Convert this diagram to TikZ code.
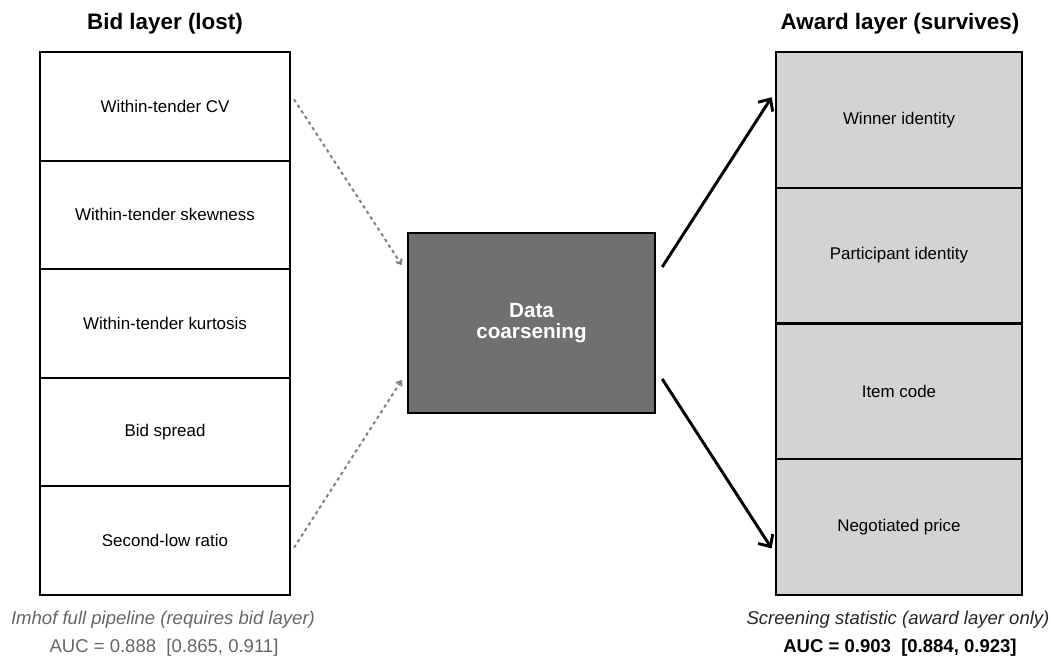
\documentclass[tikz,border=0pt]{standalone}
\usepackage{fontspec}
\setmainfont{Liberation Sans}
\usetikzlibrary{arrows.meta}

\definecolor{hubgray}{HTML}{707070}
\definecolor{cellgray}{HTML}{D3D3D3}
\definecolor{linkgray}{HTML}{808080}
\definecolor{notegray}{HTML}{666666}

\tikzset{
  bidcell/.style={draw=black, line width=1.5pt, fill=white, minimum width=187.5pt, minimum height=81.45pt, font=\fontsize{12.7}{15}\selectfont},
  awardcell/.style={draw=black, line width=1.5pt, fill=cellgray, minimum width=184.5pt, minimum height=101.8pt, font=\fontsize{12.7}{15}\selectfont},
  hubbox/.style={draw=black, line width=1.8pt, fill=hubgray, text=white, minimum width=185.25pt, minimum height=135pt, align=center, font=\fontsize{15.5}{16}\selectfont\bfseries},
  headline/.style={font=\fontsize{16.8}{19}\selectfont\bfseries},
  scorenote/.style={font=\fontsize{13.9}{16}\selectfont#1},
  scorenote/.default={}
}
\tikzset{
  lostlink/.style={draw=linkgray, line width=1.5pt, dash pattern=on 2.5pt off 2.5pt, -{Straight Barb[length=3pt,width=5pt]}},
  keptlink/.style={draw=black, line width=2.2pt, -{Straight Barb[length=7pt,width=13pt]}}
}

\begin{document}
\begin{tikzpicture}[x=0.75pt, y=-0.75pt]
  \useasboundingbox (0,0) rectangle (1051,659);

  %%%%% bid layer %%%%%
  \node[headline] (bidtitle) at (165,24) {Bid layer (lost)};
  \node[bidcell] (bid1) at (165,106.3) {Within-tender CV};
  \node[bidcell] (bid2) at (165,214.9) {Within-tender skewness};
  \node[bidcell] (bid3) at (165,323.5) {Within-tender kurtosis};
  \node[bidcell] (bid4) at (165,432.1) {Bid spread};
  \node[bidcell] (bid5) at (165,540.7) {Second-low ratio};

  %%%%% award layer %%%%%
  \node[headline] (awardtitle) at (900,24) {Award layer (survives)};
  \node[awardcell] (award1) at (899,119.9) {Winner identity};
  \node[awardcell] (award2) at (899,255.6) {Participant identity};
  \node[awardcell] (award3) at (899,391.4) {Item code};
  \node[awardcell] (award4) at (899,527.1) {Negotiated price};

  %%%%% coarsening step %%%%%
  \node[hubbox] (hub) at (531.5,323) {Data\\coarsening};

  \draw[lostlink] ([xshift=2.25pt,yshift=5.25pt]bid1.east) -- ([xshift=-3.75pt,yshift=43.5pt]hub.west);
  \draw[lostlink] ([xshift=2.25pt,yshift=-5.25pt]bid5.east) -- ([xshift=-3.75pt,yshift=-42.75pt]hub.west);

  \draw[keptlink] ([xshift=4.5pt,yshift=42pt]hub.east) -- ([xshift=-2.5pt,yshift=17pt]award1.west);
  \draw[keptlink] ([xshift=4.5pt,yshift=-42pt]hub.east) -- ([xshift=-2.5pt,yshift=-16pt]award4.west);

  %%%%% scores %%%%%
  \node[scorenote=\itshape, text=notegray] (bidnote) at (163,620) {Imhof full pipeline (requires bid layer)};
  \node[scorenote, text=notegray] (bidauc) at (164,648) {AUC = 0.888\ \ [0.865, 0.911]};
  \node[scorenote=\itshape, text=black!85] (awardnote) at (898,620) {Screening statistic (award layer only)};
  \node[scorenote=\bfseries] (awardauc) at (900,648) {AUC = 0.903\ \ [0.884, 0.923]};
\end{tikzpicture}
\end{document}
